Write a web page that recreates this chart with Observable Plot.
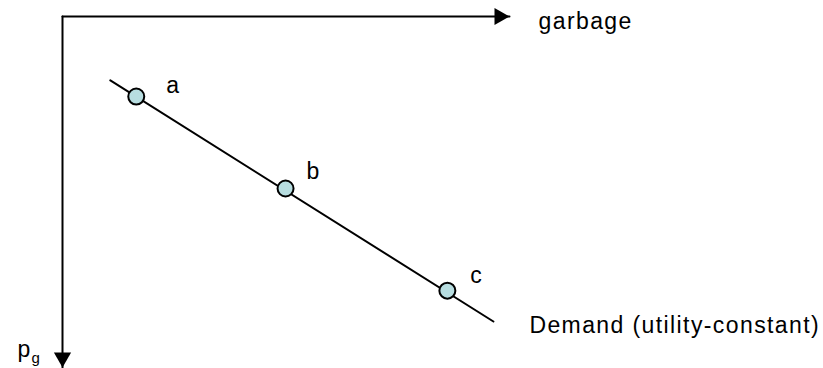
<!DOCTYPE html>
<html>
<head>
<meta charset="utf-8">
<script src="https://cdn.jsdelivr.net/npm/d3@7"></script>
<script src="https://cdn.jsdelivr.net/npm/@observablehq/plot@0.6"></script>
<style>
  html, body { margin: 0; padding: 0; background: #fff; }
  svg { display: block; }
</style>
</head>
<body>
<div id="chart"></div>
<script>
// Abstract units: garbage quantity (x, rightward), price p_g (y, downward)
const axisMax = 10;
const pointLabels = ["a", "b", "c"];
const pointGarbage = [1.65, 4.99, 8.61];
const pointPrice = [2.28, 4.90, 7.81];
const demandGarbage = [1.07, 9.64];
const demandPrice = [1.82, 8.69];
const xAxisLabel = "garbage";
const yAxisLabel = "p";
const yAxisSub = "g";
const curveLabel = "Demand (utility-constant)";

const points = pointLabels.map((l, i) => ({label: l, x: pointGarbage[i], y: pointPrice[i]}));
const demand = demandGarbage.map((x, i) => ({x, y: demandPrice[i]}));
const font = "Liberation Sans, Arial, sans-serif";

const offsets = {a: [30, -11], b: [21, -17], c: [23, -15]};
const fs = 23;

const chart = Plot.plot({
  width: 823,
  height: 368,
  marginLeft: 62,
  marginRight: 314,
  marginTop: 16,
  marginBottom: 1,
  style: {fontFamily: font, background: "#fff", letterSpacing: "1.4px"},
  x: {domain: [0, axisMax], axis: null},
  y: {domain: [0, axisMax], reverse: true, axis: null},
  marks: [
    // axes shafts
    Plot.line([{x: 0, y: 0}, {x: axisMax, y: 0}], {x: "x", y: "y", stroke: "black", strokeWidth: 2}),
    Plot.line([{x: 0, y: 0}, {x: 0, y: axisMax}], {x: "x", y: "y", stroke: "black", strokeWidth: 2}),
    // arrow heads
    Plot.dot([{x: axisMax, y: 0}], {x: "x", y: "y", symbol: "triangle", r: 6.4, rotate: 90, dx: -10, fill: "black", stroke: "none"}),
    Plot.dot([{x: 0, y: axisMax}], {x: "x", y: "y", symbol: "triangle", r: 6.4, rotate: 180, dy: -10, fill: "black", stroke: "none"}),
    // demand line
    Plot.line(demand, {x: "x", y: "y", stroke: "black", strokeWidth: 2}),
    // points
    Plot.dot(points, {x: "x", y: "y", r: 8, fill: "#b7dde0", stroke: "black", strokeWidth: 2}),
    // point labels
    ...points.map(p => Plot.text([p], {x: "x", y: "y", text: "label", textAnchor: "start", dx: offsets[p.label][0], dy: offsets[p.label][1], fontSize: fs, fill: "black"})),
    // axis labels
    Plot.text([{x: axisMax, y: 0}], {x: "x", y: "y", text: () => xAxisLabel, textAnchor: "start", dx: 29, dy: 5, fontSize: fs, fill: "black"}),
    Plot.text([{x: 0, y: axisMax}], {x: "x", y: "y", text: () => yAxisLabel, textAnchor: "start", dx: -45, dy: -18, fontSize: fs, fill: "black"}),
    Plot.text([{x: 0, y: axisMax}], {x: "x", y: "y", text: () => yAxisSub, textAnchor: "start", dx: -31, dy: -9, fontSize: 15, fill: "black"}),
    Plot.text([demand[demand.length - 1]], {x: "x", y: "y", text: () => curveLabel, textAnchor: "start", dx: 36, dy: 4, fontSize: fs, fill: "black"})
  ]
});
document.getElementById("chart").appendChild(chart);
</script>
</body>
</html>
